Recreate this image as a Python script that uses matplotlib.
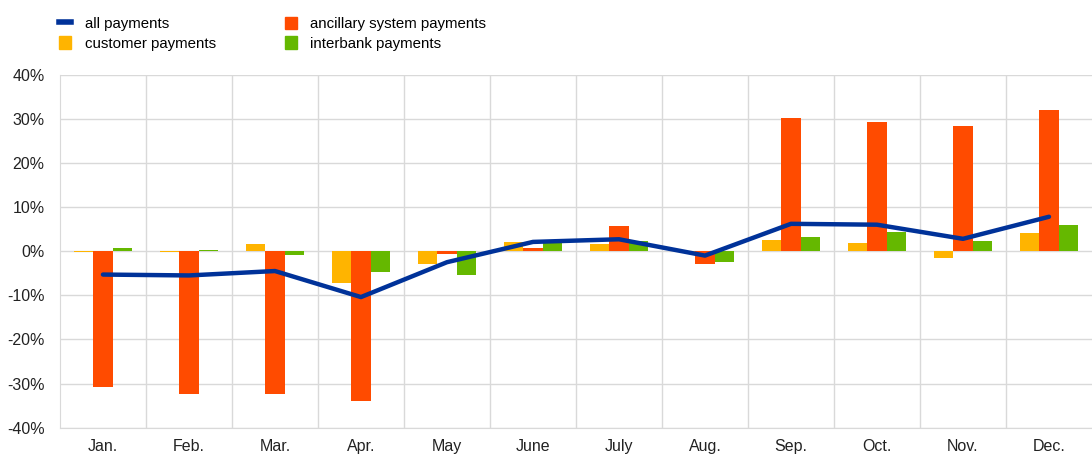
import matplotlib.pyplot as plt
import numpy as np
from matplotlib.lines import Line2D
from matplotlib.patches import Patch

plt.rcParams['font.family'] = ['Liberation Sans', 'DejaVu Sans']

months = ['Jan.', 'Feb.', 'Mar.', 'Apr.', 'May', 'June', 'July', 'Aug.', 'Sep.', 'Oct.', 'Nov.', 'Dec.']
# percentage changes
all_pay = [-5.3, -5.5, -4.5, -10.4, -2.5, 2.1, 2.7, -1.0, 6.2, 6.0, 2.8, 7.8]
customer = [-0.3, -0.1, 1.6, -7.2, -2.9, 2.0, 1.6, -0.3, 2.5, 1.9, -1.6, 4.2]
ancillary = [-30.7, -32.4, -32.3, -33.9, -0.6, 0.8, 5.8, -3.0, 30.1, 29.2, 28.4, 31.9]
interbank = [0.8, 0.2, -0.9, -4.8, -5.4, 2.3, 2.4, -2.4, 3.1, 4.4, 2.3, 5.9]

blue = '#003299'
orange = '#FF4B00'
yellow = '#FFB400'
green = '#65B800'

fig = plt.figure(figsize=(10.92, 4.54), dpi=100)
ax = fig.add_axes([0.0549, 0.058, 0.9451, 0.7775])

x = np.arange(len(months))
w = 0.225
ax.bar(x - w, customer, w, color=yellow, zorder=2)
ax.bar(x, ancillary, w, color=orange, zorder=2)
ax.bar(x + w, interbank, w, color=green, zorder=2)
ax.plot(x, all_pay, color=blue, lw=3.2, solid_capstyle='round', zorder=3)

ax.set_xlim(-0.5, 11.5)
ax.set_ylim(-40, 40)
ax.set_yticks(np.arange(-40, 41, 10))
ax.set_yticklabels(['%d%%' % v for v in np.arange(-40, 41, 10)], fontsize=11.5)
ax.set_xticks(x)
ax.set_xticklabels(months, fontsize=11.5)
ax.set_xticks(np.arange(0.5, 11.5, 1), minor=True)
ax.tick_params(axis='y', length=0, pad=11, colors='#222222')
ax.tick_params(axis='x', length=0, pad=8, colors='#222222')
ax.tick_params(axis='x', which='minor', length=0)
ax.yaxis.grid(True, color='#d9d9d9', lw=1, zorder=0)
ax.xaxis.grid(True, which='minor', color='#d9d9d9', lw=1, zorder=0)
ax.set_axisbelow(True)
for s in ['top', 'right']:
    ax.spines[s].set_visible(False)
ax.spines['left'].set_color('#d9d9d9')
ax.spines['bottom'].set_color('#d9d9d9')

handles = [Line2D([0], [0], color=blue, lw=4),
           Patch(color=yellow),
           Patch(color=orange),
           Patch(color=green)]
labels = ['all payments', 'customer payments', 'ancillary system payments', 'interbank payments']
fig.legend(handles, labels, ncol=2, loc='upper left', bbox_to_anchor=(0.042, 0.993),
           frameon=False, fontsize=10.8, handlelength=0.8, handleheight=0.9,
           handletextpad=0.9, columnspacing=4.6, labelspacing=0.35)

plt.savefig('out.png', dpi=100)
